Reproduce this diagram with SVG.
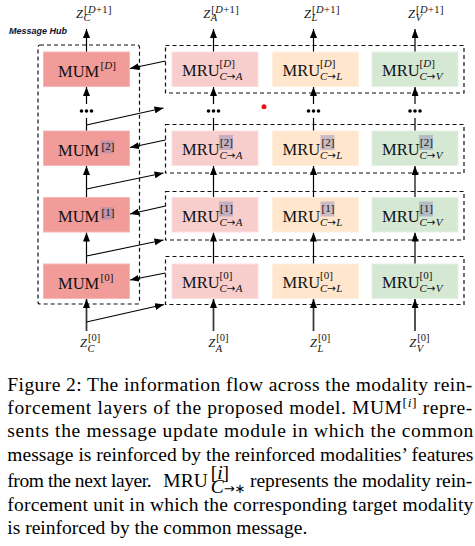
<svg xmlns="http://www.w3.org/2000/svg" width="475" height="546" viewBox="0 0 475 546">
<style>
.bg{fill:#ffffff}
.dash{fill:none;stroke:#111;stroke-width:1.2;stroke-dasharray:4 3}
.ln{fill:none;stroke:#000;stroke-width:1.2}
.arr{fill:none;stroke:#000;stroke-width:1.2;marker-end:url(#ah)}
.arrb{fill:none;stroke:#333;stroke-width:1.7;marker-end:url(#ah)}
.mum{fill:#f19c99;stroke:#f6b8b6;stroke-width:1}
.mra{fill:#f8cecc;stroke:#fbe0df;stroke-width:1}
.mrl{fill:#ffe6cc;stroke:#fff0e0;stroke-width:1}
.mrv{fill:#d5e8d4;stroke:#e4f1e3;stroke-width:1}
.hl{fill:#8a8ab8;fill-opacity:0.45}
.t{font-family:"Liberation Serif","Times New Roman",serif;fill:#111}
.big{font-size:16.5px}
.sup{font-size:11px}
.sub{font-size:11px}
.ar{font-family:"DejaVu Sans",sans-serif;font-size:10.5px}
.z{font-size:12.5px;font-style:italic}
.zs{font-size:10.5px}
.i{font-style:italic}
.cap{font-family:"Liberation Serif","Times New Roman",serif;font-size:19.5px;fill:#000}
.dot{fill:#000}
</style>
<defs>
<marker id="ah" markerWidth="9" markerHeight="7" refX="9" refY="3.5" orient="auto" markerUnits="userSpaceOnUse">
<path d="M0,0 L9,3.5 L0,7 z" fill="#000"/>
</marker>
</defs>
<rect class="bg" x="0" y="0" width="475" height="546"/>

<g id="hub">
<text x="9" y="33.5" font-family="Liberation Sans,Arial,sans-serif" font-size="9" font-weight="bold" font-style="italic" fill="#101030">Message Hub</text>
<rect class="dash" x="38" y="45" width="101.5" height="259" rx="2"/>
</g>

<g id="row-frames">
<rect class="dash" x="165.5" y="45.5" width="298.5" height="47.5"/>
<rect class="dash" x="165.5" y="124.5" width="298.5" height="48.5"/>
<rect class="dash" x="165.5" y="191.5" width="298.5" height="48.5"/>
<rect class="dash" x="165.5" y="256.5" width="298.5" height="48"/>
</g>

<g id="connectors">
<path class="arr" d="M86.5,52 V29"/>
<path class="arr" d="M213.5,52 V29"/>
<path class="arr" d="M313.5,52 V29"/>
<path class="arr" d="M415,52 V29"/>
<path class="arr" d="M86.5,104 V87"/>
<path class="arr" d="M213.5,104 V87"/>
<path class="arr" d="M313.5,104 V87"/>
<path class="arr" d="M415,104 V87"/>
<path class="ln" d="M86.5,131 V118"/>
<path class="ln" d="M213.5,131 V118"/>
<path class="ln" d="M313.5,131 V118"/>
<path class="ln" d="M415,131 V118"/>
<path class="arr" d="M86.5,197.5 V166"/>
<path class="arr" d="M213.5,197.5 V166"/>
<path class="arr" d="M313.5,197.5 V166"/>
<path class="arr" d="M415,197.5 V166"/>
<path class="arr" d="M86.5,264 V232.5"/>
<path class="arr" d="M213.5,264 V232.5"/>
<path class="arr" d="M313.5,264 V232.5"/>
<path class="arr" d="M415,264 V232.5"/>
<path class="arrb" d="M86.5,331 V299"/>
<path class="arrb" d="M213.5,331 V299"/>
<path class="arrb" d="M313.5,331 V299"/>
<path class="arrb" d="M415,331 V299"/>
<path class="arr" d="M86.5,125 L163.5,108"/>
<path class="arr" d="M86.5,189 L163.5,173"/>
<path class="arr" d="M86.5,256 L163.5,240"/>
<path class="arr" d="M86.5,322 L164,304.5"/>
<path class="arr" d="M165.5,61 L130,68.5"/>
<path class="arr" d="M165.5,140 L130,147.5"/>
<path class="arr" d="M165.5,206 L130,214"/>
<path class="arr" d="M165.5,273 L130,280"/>
</g>

<g id="ellipsis">
<circle class="dot" cx="81.5" cy="111" r="1.8"/><circle class="dot" cx="86.5" cy="111" r="1.8"/><circle class="dot" cx="91.5" cy="111" r="1.8"/>
<circle class="dot" cx="208.5" cy="111" r="1.8"/><circle class="dot" cx="213.5" cy="111" r="1.8"/><circle class="dot" cx="218.5" cy="111" r="1.8"/>
<circle class="dot" cx="308.5" cy="111" r="1.8"/><circle class="dot" cx="313.5" cy="111" r="1.8"/><circle class="dot" cx="318.5" cy="111" r="1.8"/>
<circle class="dot" cx="410" cy="111" r="1.8"/><circle class="dot" cx="415" cy="111" r="1.8"/><circle class="dot" cx="420" cy="111" r="1.8"/>
<circle cx="264" cy="106.7" r="2.5" fill="#e8141c"/>
</g>

<g id="mum-D">
<rect class="mum" x="43.5" y="52" width="86" height="34.5"/>
<text class="t big" x="58" y="76.5">MUM</text>
<text class="t sup" x="100.5" y="68.5">[<tspan class="i">D</tspan>]</text>
</g>
<g id="mum-2">
<rect class="mum" x="43.5" y="131" width="86" height="34.5"/>
<rect class="hl" x="100.5" y="140.7" width="13.5" height="12.6"/>
<text class="t big" x="58" y="155.5">MUM</text>
<text class="t sup" x="101.5" y="149.5">[2]</text>
</g>
<g id="mum-1">
<rect class="mum" x="43.5" y="197.5" width="86" height="34.5"/>
<rect class="hl" x="100.5" y="207.2" width="13.5" height="12.6"/>
<text class="t big" x="58" y="222">MUM</text>
<text class="t sup" x="101.5" y="216">[1]</text>
</g>
<g id="mum-0">
<rect class="mum" x="43.5" y="264" width="86" height="34.5"/>
<text class="t big" x="58" y="288.5">MUM</text>
<text class="t sup" x="100.5" y="280.5">[0]</text>
</g>

<g id="mru-A-D">
<rect class="mra" x="172" y="52" width="86" height="34.5"/>
<text class="t big" x="182" y="76">MRU</text>
<text class="t sup" x="219.5" y="66.5">[<tspan class="i">D</tspan>]</text>
<text class="t sub" x="219.5" y="80.3"><tspan class="i">C</tspan><tspan class="ar">→</tspan><tspan class="i">A</tspan></text>
</g>
<g id="mru-L-D">
<rect class="mrl" x="272.5" y="52" width="86" height="34.5"/>
<text class="t big" x="282.5" y="76">MRU</text>
<text class="t sup" x="320" y="66.5">[<tspan class="i">D</tspan>]</text>
<text class="t sub" x="320" y="80.3"><tspan class="i">C</tspan><tspan class="ar">→</tspan><tspan class="i">L</tspan></text>
</g>
<g id="mru-V-D">
<rect class="mrv" x="372" y="52" width="86" height="34.5"/>
<text class="t big" x="382" y="76">MRU</text>
<text class="t sup" x="419.5" y="66.5">[<tspan class="i">D</tspan>]</text>
<text class="t sub" x="419.5" y="80.3"><tspan class="i">C</tspan><tspan class="ar">→</tspan><tspan class="i">V</tspan></text>
</g>

<g id="mru-A-2">
<rect class="mra" x="172" y="131" width="86" height="34.5"/>
<rect class="hl" x="219" y="135" width="14" height="15"/>
<text class="t big" x="182" y="155">MRU</text>
<text class="t sup" x="220" y="145.5">[2]</text>
<text class="t sub" x="219.5" y="159.3"><tspan class="i">C</tspan><tspan class="ar">→</tspan><tspan class="i">A</tspan></text>
</g>
<g id="mru-L-2">
<rect class="mrl" x="272.5" y="131" width="86" height="34.5"/>
<rect class="hl" x="320.5" y="135" width="14" height="15"/>
<text class="t big" x="282.5" y="155">MRU</text>
<text class="t sup" x="321.5" y="145.5">[2]</text>
<text class="t sub" x="320" y="159.3"><tspan class="i">C</tspan><tspan class="ar">→</tspan><tspan class="i">L</tspan></text>
</g>
<g id="mru-V-2">
<rect class="mrv" x="372" y="131" width="86" height="34.5"/>
<rect class="hl" x="419" y="135" width="14" height="15"/>
<text class="t big" x="382" y="155">MRU</text>
<text class="t sup" x="420" y="145.5">[2]</text>
<text class="t sub" x="419.5" y="159.3"><tspan class="i">C</tspan><tspan class="ar">→</tspan><tspan class="i">V</tspan></text>
</g>

<g id="mru-A-1">
<rect class="mra" x="172" y="197.5" width="86" height="34.5"/>
<rect class="hl" x="219" y="201.5" width="14" height="15"/>
<text class="t big" x="182" y="221.5">MRU</text>
<text class="t sup" x="220" y="212">[1]</text>
<text class="t sub" x="219.5" y="225.8"><tspan class="i">C</tspan><tspan class="ar">→</tspan><tspan class="i">A</tspan></text>
</g>
<g id="mru-L-1">
<rect class="mrl" x="272.5" y="197.5" width="86" height="34.5"/>
<rect class="hl" x="320.5" y="201.5" width="14" height="15"/>
<text class="t big" x="282.5" y="221.5">MRU</text>
<text class="t sup" x="321.5" y="212">[1]</text>
<text class="t sub" x="320" y="225.8"><tspan class="i">C</tspan><tspan class="ar">→</tspan><tspan class="i">L</tspan></text>
</g>
<g id="mru-V-1">
<rect class="mrv" x="372" y="197.5" width="86" height="34.5"/>
<rect class="hl" x="419" y="201.5" width="14" height="15"/>
<text class="t big" x="382" y="221.5">MRU</text>
<text class="t sup" x="420" y="212">[1]</text>
<text class="t sub" x="419.5" y="225.8"><tspan class="i">C</tspan><tspan class="ar">→</tspan><tspan class="i">V</tspan></text>
</g>

<g id="mru-A-0">
<rect class="mra" x="172" y="264" width="86" height="34.5"/>
<text class="t big" x="182" y="288">MRU</text>
<text class="t sup" x="219.5" y="278.5">[0]</text>
<text class="t sub" x="219.5" y="292.3"><tspan class="i">C</tspan><tspan class="ar">→</tspan><tspan class="i">A</tspan></text>
</g>
<g id="mru-L-0">
<rect class="mrl" x="272.5" y="264" width="86" height="34.5"/>
<text class="t big" x="282.5" y="288">MRU</text>
<text class="t sup" x="320" y="278.5">[0]</text>
<text class="t sub" x="320" y="292.3"><tspan class="i">C</tspan><tspan class="ar">→</tspan><tspan class="i">L</tspan></text>
</g>
<g id="mru-V-0">
<rect class="mrv" x="372" y="264" width="86" height="34.5"/>
<text class="t big" x="382" y="288">MRU</text>
<text class="t sup" x="419.5" y="278.5">[0]</text>
<text class="t sub" x="419.5" y="292.3"><tspan class="i">C</tspan><tspan class="ar">→</tspan><tspan class="i">V</tspan></text>
</g>

<g id="z-out">
<text class="t z" x="76" y="18.3">Z</text><text class="t zs" x="84" y="12.5" textLength="27.5">[<tspan class="i">D</tspan>+1]</text><text class="t zs i" x="83.5" y="21">C</text>
<text class="t z" x="203.3" y="18.3">Z</text><text class="t zs" x="211.3" y="12.5" textLength="27.5">[<tspan class="i">D</tspan>+1]</text><text class="t zs i" x="210.8" y="21">A</text>
<text class="t z" x="304" y="18.3">Z</text><text class="t zs" x="312" y="12.5" textLength="27.5">[<tspan class="i">D</tspan>+1]</text><text class="t zs i" x="311.5" y="21">L</text>
<text class="t z" x="408" y="18.3">Z</text><text class="t zs" x="416" y="12.5" textLength="27.5">[<tspan class="i">D</tspan>+1]</text><text class="t zs i" x="415.5" y="21">V</text>
</g>

<g id="z-in">
<text class="t z" x="80" y="346.7">Z</text><text class="t zs" x="88" y="341">[0]</text><text class="t zs i" x="87.5" y="352">C</text>
<text class="t z" x="208.3" y="346.7">Z</text><text class="t zs" x="216.3" y="341">[0]</text><text class="t zs i" x="215.8" y="352">A</text>
<text class="t z" x="310" y="346.7">Z</text><text class="t zs" x="318" y="341">[0]</text><text class="t zs i" x="317.5" y="352">L</text>
<text class="t z" x="409.3" y="346.7">Z</text><text class="t zs" x="417.3" y="341">[0]</text><text class="t zs i" x="416.8" y="352">V</text>
</g>

<g id="caption">
<text class="cap" x="7.3" y="390.7" textLength="465" lengthAdjust="spacing">Figure 2: The information flow across the modality rein-</text>
<text class="cap" x="7.3" y="414" textLength="465" lengthAdjust="spacing">forcement layers of the proposed model.  MUM<tspan dy="-7.5" font-size="13.5px">[<tspan font-style="italic">i</tspan>]</tspan><tspan dy="7.5"> repre-</tspan></text>
<text class="cap" x="7.3" y="437.3" textLength="466" lengthAdjust="spacing">sents the message update module in which the common</text>
<text class="cap" x="7.3" y="461" textLength="466" lengthAdjust="spacing">message is reinforced by the reinforced modalities’ features</text>
<text class="cap" x="7.3" y="486.7" textLength="144.4" lengthAdjust="spacing">from the next layer.</text>
<text class="cap" x="163.3" y="486.7">MRU</text>
<text class="cap" x="210.7" y="478.8" font-size="13.5px">[<tspan font-style="italic">i</tspan>]</text>
<text class="cap" x="210.7" y="493" font-size="13.5px"><tspan font-style="italic">C</tspan><tspan font-family="DejaVu Sans,sans-serif" font-size="13px">→∗</tspan></text>
<text class="cap" x="250" y="486.7" textLength="222.3" lengthAdjust="spacing">represents the modality rein-</text>
<text class="cap" x="7.3" y="510.7" textLength="466" lengthAdjust="spacing">forcement unit in which the corresponding target modality</text>
<text class="cap" x="7.3" y="534.3">is reinforced by the common message.</text>
</g>
</svg>
